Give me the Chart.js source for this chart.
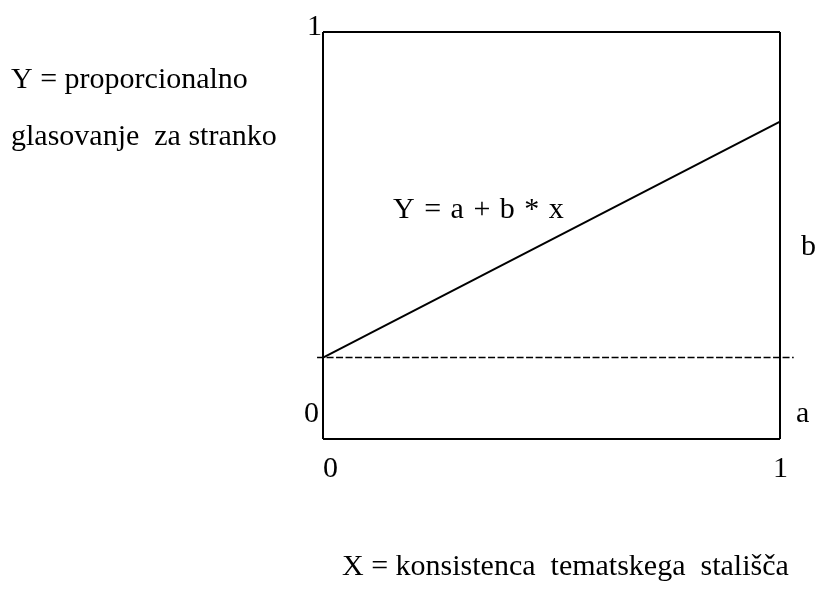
<!DOCTYPE html>
<html>
<head>
<meta charset="utf-8">
<script src="https://cdn.jsdelivr.net/npm/chart.js@4/dist/chart.umd.min.js"></script>
<style>
  html, body { margin: 0; padding: 0; background: #fff; }
  #wrap { width: 817px; height: 592px; }
</style>
</head>
<body>
<div id="wrap"><canvas id="myChart"></canvas></div>
<script>
// data
var lineX = [0, 1];
var lineY = [0.2, 0.78];
var dashX = [-0.013, 1.03];
var dashY = [0.2, 0.2];
var xTickLabels = ["0", "1"];
var yTickLabels = ["0", "1"];
var equationLabel = "Y = a + b * x";
var yTitle = ["Y = proporcionalno", "glasovanje  za stranko"];
var xTitle = "X = konsistenca  tematskega  stališča";

var serif = "30px 'Liberation Serif', 'Times New Roman', serif";

// text labels around the box
var textPlugin = {
  id: "textLabels",
  afterDraw: function (chart) {
    var ctx = chart.ctx;
    var xs = chart.scales.x;
    var ys = chart.scales.y;
    ctx.save();
    ctx.font = serif;
    ctx.fillStyle = "#000";
    ctx.textBaseline = "alphabetic";
    ctx.textAlign = "left";

    // x tick labels
    ctx.fillText(xTickLabels[0], xs.getPixelForValue(0), ys.getPixelForValue(0) + 38);
    ctx.textAlign = "right";
    ctx.fillText(xTickLabels[1], xs.getPixelForValue(1) + 8, ys.getPixelForValue(0) + 38);

    // y tick labels
    ctx.fillText(yTickLabels[0], xs.getPixelForValue(0) - 4, ys.getPixelForValue(0) - 17);
    ctx.fillText(yTickLabels[1], xs.getPixelForValue(0) - 1, ys.getPixelForValue(1) + 3);

    // a and b
    ctx.textAlign = "left";
    ctx.fillText("a", xs.getPixelForValue(1) + 16, ys.getPixelForValue(0) - 17);
    ctx.fillText("b", xs.getPixelForValue(1) + 21, 255);

    // equation (a bit wider spacing in the original)
    ctx.wordSpacing = "2px";
    ctx.fillText(equationLabel, 393, 218);
    ctx.wordSpacing = "0px";

    // axis titles
    ctx.fillText(yTitle[0], 11, 88);
    ctx.fillText(yTitle[1], 11, 145);
    ctx.fillText(xTitle, 342, 575);
    ctx.restore();
  }
};

var chart1 = document.getElementById("myChart").getContext("2d");

var myChart = new Chart(chart1, {
  type: "line",
  data: {
    datasets: [
      {
        label: "Y = a + b * x",
        data: lineX.map(function (x, i) { return { x: x, y: lineY[i] }; }),
        borderColor: "#000",
        borderWidth: 2,
        pointRadius: 0,
        fill: false,
        clip: false,
      },
      {
        label: "a",
        data: dashX.map(function (x, i) { return { x: x, y: dashY[i] }; }),
        borderColor: "#000",
        borderWidth: 1.5,
        borderDash: [7, 2.5],
        pointRadius: 0,
        fill: false,
        clip: false,
      },
    ],
  },
  options: {
    responsive: true,
    maintainAspectRatio: false,
    animation: false,
    layout: { padding: { left: 323, right: 37, top: 32, bottom: 153 } },
    plugins: {
      legend: { display: false },
      tooltip: { enabled: false },
    },
    scales: {
      x: {
        type: "linear",
        min: 0,
        max: 1,
        ticks: { display: false, stepSize: 1 },
        grid: { color: "#000", lineWidth: 2, drawTicks: false },
        border: { display: false },
      },
      y: {
        type: "linear",
        min: 0,
        max: 1,
        ticks: { display: false, stepSize: 1 },
        grid: { color: "#000", lineWidth: 2, drawTicks: false },
        border: { display: false },
      },
    },
  },
  plugins: [textPlugin],
});
</script>
</body>
</html>
